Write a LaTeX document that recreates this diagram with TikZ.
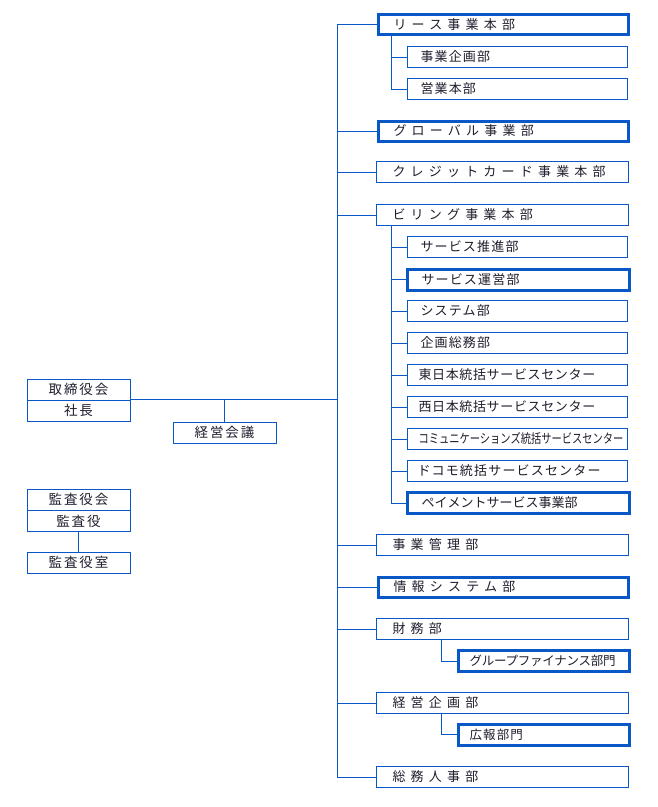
\documentclass[tikz,border=0pt]{standalone}
\usepackage{fontspec}
\newfontfamily\jpM[LetterSpace=40]{Noto Sans CJK JP}
\newfontfamily\jpS[LetterSpace=9]{Noto Sans CJK JP}
\newfontfamily\jpT[LetterSpace=5]{Noto Sans CJK JP}
\newfontfamily\jpF[LetterSpace=-2]{Noto Sans CJK JP}
\newfontfamily\jpL[LetterSpace=14]{Noto Sans CJK JP}
\newfontfamily\jpN{Noto Sans CJK JP}
\definecolor{orgblue}{RGB}{8,88,200}
\definecolor{txt}{RGB}{30,30,45}
\begin{document}
\begin{tikzpicture}[x=1pt,y=-1pt,
  ln/.style={draw=orgblue, line width=1pt},
  box/.style={draw=orgblue, line width=1pt, fill=white, anchor=west, minimum height=21pt, inner ysep=0pt, align=left, text=txt},
  mainbox/.style={box, inner xsep=16pt, text width=220pt, font=\jpM\fontsize{13}{15}\selectfont},
  mainthick/.style={mainbox, line width=3pt, minimum height=20pt, inner xsep=15.5pt, text width=219pt},
  subbox/.style={box, inner xsep=13pt, text width=194pt, font=\jpS\fontsize{13}{15}\selectfont},
  subthick/.style={subbox, line width=3pt, inner xsep=14.5pt, text width=193pt},
  finbox/.style={box, line width=3pt, inner xsep=11.5pt, text width=148pt, font=\jpF\fontsize{12.5}{15}\selectfont},
  leftbox/.style={draw=orgblue, line width=1pt, fill=white, minimum width=103pt, minimum height=21pt, inner sep=0pt, text=txt, font=\jpL\fontsize{13.5}{15}\selectfont},
]
\useasboundingbox (0,0) rectangle (658,807);

\coordinate (trunk) at (337,0);
\coordinate (ls) at (391,0);
\coordinate (fs) at (441,0);

% main boxes
\node[mainthick] (lease)   at (376.5,24.5) {リース事業本部};
\node[mainthick] (global)  at (376.5,131)  {グローバル事業部};
\node[mainbox]   (credit)  at (376,172)    {クレジットカード事業本部};
\node[mainbox]   (billing) at (376,215)    {ビリング事業本部};
\node[mainbox]   (kanri)   at (376,545)    {事業管理部};
\node[mainthick] (joho)    at (376.5,587)  {情報システム部};
\node[mainbox]   (zaimu)   at (376,629)    {財務部};
\node[mainbox]   (keikaku) at (376,703)    {経営企画部};
\node[mainbox]   (soumu)   at (376,777)    {総務人事部};

% lease subs
\node[subbox] (kikaku1) at (407,57) {事業企画部};
\node[subbox] (eigyo)   at (407,89) {営業本部};

% billing subs
\node[subbox]   (suishin) at (407,247)   {サービス推進部};
\node[subthick] (unei)    at (405.5,279.5) {サービス運営部};
\node[subbox]   (system)  at (407,311)   {システム部};
\node[subbox]   (soumu2)  at (407,343)   {企画総務部};
\node[subbox, inner xsep=11pt, text width=198pt, font=\jpT\fontsize{13}{15}\selectfont] (east) at (407,375) {東日本統括サービスセンター};
\node[subbox, inner xsep=11pt, text width=198pt, font=\jpT\fontsize{13}{15}\selectfont] (west) at (407,407) {西日本統括サービスセンター};
\node[subbox, inner xsep=11pt, text width=198pt] (comm) at (407,439) {\jpN\scalebox{0.79}[1]{コミュニケーションズ統括サービスセンター}};
\node[subbox, inner xsep=10pt, text width=200pt] (docomo) at (407,471) {ドコモ統括サービスセンター};
\node[subthick, font=\jpN\fontsize{13}{15}\selectfont] (payment) at (405.5,503) {ペイメントサービス事業部};

% finance / planning subs
\node[finbox] (groupfin) at (456.5,661) {グループファイナンス部門};
\node[finbox, font=\jpS\fontsize{12.5}{15}\selectfont] (koho) at (456.5,734.5) {広報部門};

% left side
\node[leftbox] (torishimari) at (78.5,389.5) {取締役会};
\node[leftbox] (shacho)      at (78.5,410.5) {社長};
\node[leftbox] (kaigi)       at (224.5,432.5) {経営会議};
\node[leftbox] (kansakai)    at (78.5,499.5) {監査役会};
\node[leftbox] (kansayaku)   at (78.5,521)   {監査役};
\node[leftbox] (kansashitsu) at (78.5,562.5) {監査役室};

% connectors
\draw[ln] (trunk |- lease.west) -- (trunk |- soumu.west);
\foreach \n in {lease,global,credit,billing,kanri,joho,zaimu,keikaku,soumu}
  \draw[ln] (trunk |- \n.west) -- (\n.west);
\draw[ln] (shacho.north east) -- (trunk |- shacho.north);
\draw[ln] (kaigi.north) -- (kaigi.north |- shacho.north);
\draw[ln] (kansayaku.south) -- (kansashitsu.north);

\draw[ln] (ls |- lease.south) -- (ls |- eigyo.west);
\foreach \n in {kikaku1,eigyo}
  \draw[ln] (ls |- \n.west) -- (\n.west);
\draw[ln] (ls |- billing.south) -- (ls |- payment.west);
\foreach \n in {suishin,unei,system,soumu2,east,west,comm,docomo,payment}
  \draw[ln] (ls |- \n.west) -- (\n.west);

\draw[ln] (fs |- zaimu.south) |- (groupfin.west);
\draw[ln] (fs |- keikaku.south) |- (koho.west);
\end{tikzpicture}
\end{document}
